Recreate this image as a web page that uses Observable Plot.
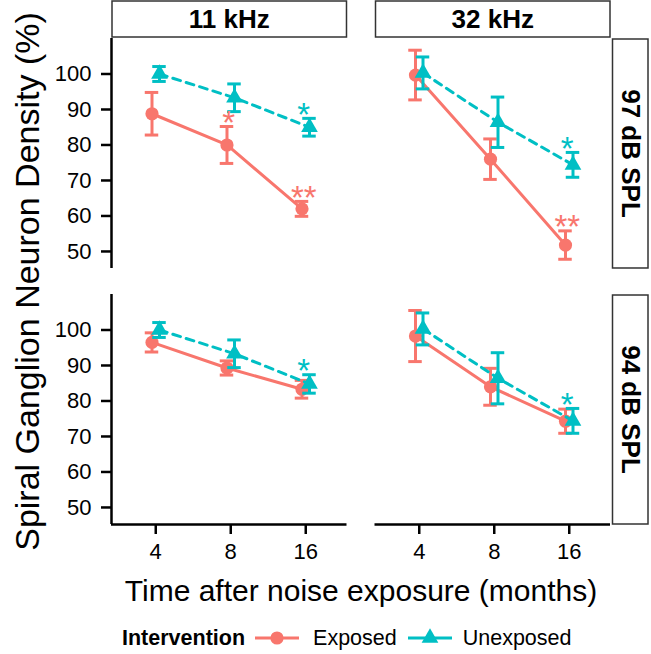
<!DOCTYPE html>
<html>
<head>
<meta charset="utf-8">
<script src="https://cdn.jsdelivr.net/npm/d3@7"></script>
<script src="https://cdn.jsdelivr.net/npm/@observablehq/plot@0.6"></script>
<style>
  html, body { margin: 0; padding: 0; background: #fff; }
  #wrap { position: relative; width: 651px; height: 654px; overflow: hidden; background: #fff;
          font-family: "Liberation Sans", Arial, Helvetica, sans-serif; color: #000; }
  #legend { position: absolute; left: 122px; top: 622px; height: 32px; display: flex; align-items: center;
            font-size: 21.5px; white-space: nowrap; }
  #legend .title { font-weight: bold; margin-right: 10px; }
  #legend svg { display: block; }
</style>
</head>
<body>
<div id="wrap"><div id="chart"></div><div id="legend"></div></div>
<script>
// ---------- data ----------
const months = ["4", "8", "16"];               // x tick labels (months after exposure)
const frequencies = ["11 kHz", "32 kHz"];      // column strips
const levels = ["97 dB SPL", "94 dB SPL"];     // row strips
const groups = ["Exposed", "Unexposed"];       // legend entries
const yTicks = [50, 60, 70, 80, 90, 100];

// 11 kHz, 97 dB SPL
const exp11k97 = [88.8, 80.0, 62.0];
const exp11k97Se = [6.0, 5.2, 2.1];
const unexp11k97 = [100.0, 93.3, 85.0];
const unexp11k97Se = [2.1, 3.9, 2.5];
const sigExp11k97 = ["", "*", "**"];
const sigUnexp11k97 = ["", "", "*"];

// 32 kHz, 97 dB SPL
const exp32k97 = [99.7, 76.0, 51.8];
const exp32k97Se = [7.0, 5.7, 4.0];
const unexp32k97 = [100.3, 86.4, 74.4];
const unexp32k97Se = [4.5, 7.1, 3.5];
const sigExp32k97 = ["", "", "**"];
const sigUnexp32k97 = ["", "", "*"];

// 11 kHz, 94 dB SPL
const exp11k94 = [96.5, 89.3, 83.3];
const exp11k94Se = [2.7, 2.0, 2.5];
const unexp11k94 = [100.0, 93.3, 84.8];
const unexp11k94Se = [2.1, 3.9, 2.6];
const sigExp11k94 = ["", "", ""];
const sigUnexp11k94 = ["", "", "*"];

// 32 kHz, 94 dB SPL
const exp32k94 = [98.3, 84.0, 74.3];
const exp32k94Se = [7.2, 5.2, 3.4];
const unexp32k94 = [100.3, 86.4, 74.4];
const unexp32k94Se = [4.5, 7.2, 3.5];
const sigExp32k94 = ["", "", ""];
const sigUnexp32k94 = ["", "", "*"];

// ---------- build table ----------
const series = [
  [frequencies[0], levels[0], groups[0], exp11k97, exp11k97Se, sigExp11k97],
  [frequencies[0], levels[0], groups[1], unexp11k97, unexp11k97Se, sigUnexp11k97],
  [frequencies[1], levels[0], groups[0], exp32k97, exp32k97Se, sigExp32k97],
  [frequencies[1], levels[0], groups[1], unexp32k97, unexp32k97Se, sigUnexp32k97],
  [frequencies[0], levels[1], groups[0], exp11k94, exp11k94Se, sigExp11k94],
  [frequencies[0], levels[1], groups[1], unexp11k94, unexp11k94Se, sigUnexp11k94],
  [frequencies[1], levels[1], groups[0], exp32k94, exp32k94Se, sigExp32k94],
  [frequencies[1], levels[1], groups[1], unexp32k94, unexp32k94Se, sigUnexp32k94]
];
const rows = series.flatMap(([freq, level, group, mean, se, sig]) =>
  mean.map((m, i) => ({freq, level, group, xi: i + 1, mean: m, se: se[i], sig: sig[i]})));

// ---------- styling ----------
const colors = {Exposed: "#F8766D", Unexposed: "#00BFC4"};
const dodge = 0.05, cap = 0.09;
const xDomain = [0.41, 3.55];
const yDomain = [45.2, 110];
const FONT = "Liberation Sans, Arial, Helvetica, sans-serif";
const LW = 3;

const xd = d => d.xi + (d.group === groups[0] ? -dodge : dodge);

function groupMarks(g) {
  const d = rows.filter(r => r.group === g);
  const c = colors[g];
  const common = {fx: "freq", fy: "level"};
  return [
    Plot.line(d, {...common, x: xd, y: "mean", stroke: c, strokeWidth: LW,
      strokeDasharray: g === groups[1] ? "8,6" : null}),
    Plot.ruleX(d, {...common, x: xd, y1: r => r.mean - r.se, y2: r => r.mean + r.se, stroke: c, strokeWidth: LW}),
    Plot.ruleY(d, {...common, y: r => r.mean + r.se, x1: r => xd(r) - cap, x2: r => xd(r) + cap, stroke: c, strokeWidth: LW}),
    Plot.ruleY(d, {...common, y: r => r.mean - r.se, x1: r => xd(r) - cap, x2: r => xd(r) + cap, stroke: c, strokeWidth: LW}),
    Plot.dot(d, {...common, x: xd, y: "mean", fill: c, stroke: null,
      symbol: g === groups[0] ? "circle" : "triangle", r: g === groups[0] ? 6.6 : 6.2})
  ];
}

const chart = Plot.plot({
  width: 651,
  height: 610,
  marginLeft: 111,
  marginRight: 41,
  marginTop: 38,
  marginBottom: 86,
  style: {fontFamily: FONT, fontSize: "22px", color: "#000", background: "#fff", overflow: "visible"},
  x: {domain: xDomain},
  y: {domain: yDomain},
  fx: {domain: frequencies, paddingInner: 0.1063, paddingOuter: 0, round: false},
  fy: {domain: levels, paddingInner: 0.1016, paddingOuter: 0, round: false},
  marks: [
    // axis lines
    Plot.ruleX([xDomain[0]], {facetAnchor: "left", stroke: "#000", strokeWidth: 2.5}),
    Plot.ruleY([yDomain[0]], {facetAnchor: "bottom", stroke: "#000", strokeWidth: 2.5}),
    Plot.axisY({ticks: yTicks, anchor: "left", facetAnchor: "left", tickSize: 10, tickPadding: 10,
      fontSize: 22, label: null, stroke: "#000", strokeWidth: 2.5, fill: "#000"}),
    Plot.axisX({ticks: [1, 2, 3], tickFormat: i => months[i - 1], anchor: "bottom", facetAnchor: "bottom",
      tickSize: 10, tickPadding: 9, fontSize: 22, label: null, stroke: "#000", strokeWidth: 2.5, fill: "#000"}),
    // strip labels
    Plot.axisFx({anchor: "top", tickSize: 0, tickPadding: 19, lineAnchor: "middle", fontSize: 26,
      fontWeight: "bold", label: null, fill: "#000"}),
    Plot.axisFy({anchor: "right", tickSize: 0, tickPadding: 20, tickRotate: 90, textAnchor: "middle",
      lineAnchor: "middle", fontSize: 26, fontWeight: "bold", label: null, fill: "#000"}),
    // data
    ...groupMarks(groups[0]),
    ...groupMarks(groups[1]),
    Plot.text(rows.filter(r => r.sig), {fx: "freq", fy: "level", x: "xi", y: r => r.mean + r.se,
      text: "sig", dx: -2, dy: -3, fontSize: 33, fill: r => colors[r.group]}),
    // axis titles
    Plot.text(["Spiral Ganglion Neuron Density (%)"], {text: d => d, frameAnchor: "left", facet: "super",
      rotate: -90, dx: -83, textAnchor: "middle", lineAnchor: "middle", fontSize: 34, fill: "#000"}),
    Plot.text(["Time after noise exposure (months)"], {text: d => d, frameAnchor: "bottom", facet: "super",
      dy: 67, textAnchor: "middle", lineAnchor: "middle", fontSize: 30, fill: "#000"})
  ]
});

// strip boxes drawn behind everything, positioned through the facet scales
(function drawStrips() {
  const svg = d3.select(chart);
  const fx = chart.scale("fx"), fy = chart.scale("fy");
  const bandPos = (s, v) => {
    if (typeof s.apply === "function") return s.apply(v);
    const i = s.domain.indexOf(v);
    return s.range[0] + i * s.step;
  };
  const bwx = fx.bandwidth, bwy = fy.bandwidth;
  const g = svg.insert("g", ":first-child").attr("fill", "#fff").attr("stroke", "#333").attr("stroke-width", 1.5);
  const top = 1, bottom = 37;
  for (const f of frequencies) {
    const x0 = bandPos(fx, f);
    g.append("rect").attr("x", x0 + 1).attr("y", top).attr("width", bwx - 1).attr("height", bottom - top);
  }
  const right = 651 - 41;
  for (const l of levels) {
    const y0 = bandPos(fy, l);
    g.append("rect").attr("x", right + 2.5).attr("y", y0 + 1).attr("width", 35.5).attr("height", bwy - 1);
  }
})();

document.getElementById("chart").appendChild(chart);

// legend
(function legend() {
  const L = d3.select("#legend");
  L.append("span").attr("class", "title").text("Intervention");
  groups.forEach((g, i) => {
    const s = L.append("svg").attr("width", 44).attr("height", 24)
      .style("margin-left", i === 0 ? "0px" : "11px").style("margin-right", i === 0 ? "14px" : "11px");
    s.append("line").attr("x1", 0).attr("x2", 44).attr("y1", 12).attr("y2", 12)
      .attr("stroke", colors[g]).attr("stroke-width", LW);
    const sym = i === 0 ? d3.symbolCircle : d3.symbolTriangle;
    const r = i === 0 ? 6.6 : 6.2;
    s.append("path").attr("transform", "translate(22,12)")
      .attr("d", d3.symbol(sym, Math.PI * r * r)()).attr("fill", colors[g]);
    L.append("span").text(g);
  });
})();
</script>
</body>
</html>
